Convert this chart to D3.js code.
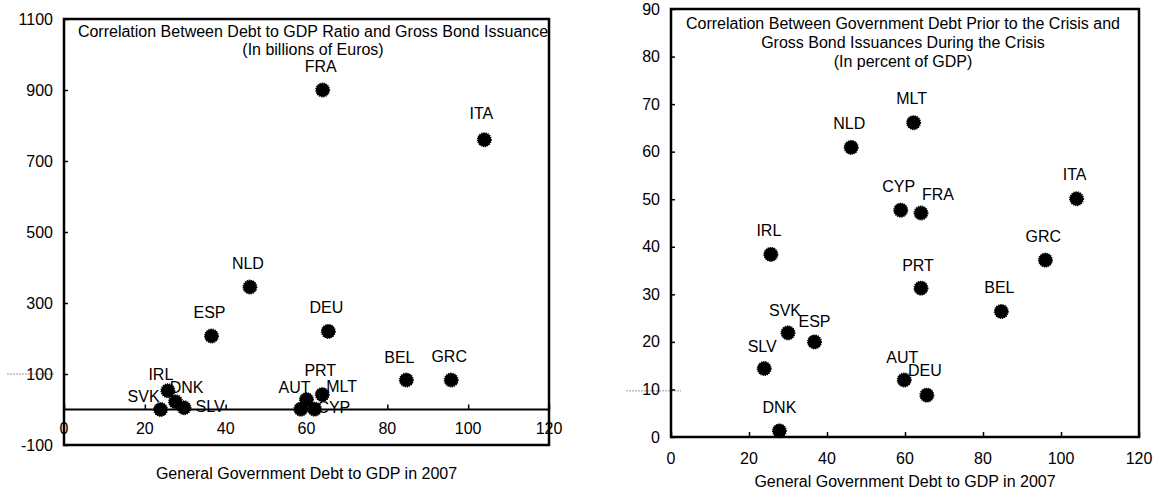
<!DOCTYPE html>
<html><head><meta charset="utf-8">
<script src="https://cdn.jsdelivr.net/npm/d3@7"></script>
<style>
body{margin:0;background:#fff;}
svg text{font-family:"Liberation Sans",Arial,sans-serif;fill:#000;}
</style></head>
<body><svg id="c" width="1168" height="491"></svg>
<script>
// ---------- DATA ----------
// Left panel: debt-to-GDP 2007 (x) vs gross bond issuance, billions of euros (y)
const leftCountries = ["FRA","ITA","NLD","ESP","DEU","BEL","GRC","PRT","IRL","DNK","SVK","SLV","AUT","MLT","CYP"];
const leftDebt      = [64, 104, 46, 36.5, 65.4, 84.7, 95.8, 63.9, 25.7, 27.6, 23.9, 29.7, 60, 62, 58.6];
const leftIssuance  = [900, 760, 345, 207, 220, 83, 83, 42, 53, 22, 0, 5, 28, 1, 1];
const leftTitle = ["Correlation Between Debt to GDP Ratio and Gross Bond Issuance","(In billions of Euros)"];
const leftXTicks = [0,20,40,60,80,100,120];
const leftYTicks = [-100,100,300,500,700,900,1100];

// Right panel: debt-to-GDP 2007 (x) vs gross bond issuance, percent of GDP (y)
const rightCountries = ["MLT","NLD","CYP","FRA","ITA","IRL","GRC","PRT","BEL","SVK","ESP","SLV","AUT","DEU","DNK"];
const rightDebt      = [62.2, 46.2, 58.9, 64.1, 104.0, 25.6, 96.0, 64.1, 84.7, 30.0, 36.8, 23.9, 59.8, 65.6, 27.8];
const rightIssuance  = [66.1, 60.9, 47.7, 47.1, 50.1, 38.4, 37.2, 31.3, 26.4, 21.9, 20.0, 14.4, 12.0, 8.8, 1.3];
const rightTitle = ["Correlation Between Government Debt Prior to the Crisis and","Gross Bond Issuances During the Crisis","(In percent of GDP)"];
const rightXTicks = [0,20,40,60,80,100,120];
const rightYTicks = [0,10,20,30,40,50,60,70,80,90];

const xTitle = "General Government Debt to GDP in 2007";

// ---------- LAYOUT / STYLE ----------
const FS = 16;
const defaultOff = [-2,-24];
const leftLabelOff = {ITA:[-3,-26],BEL:[-7,-23],IRL:[-7,-16],DNK:[11,-14],SVK:[-17,-13],SLV:[26,-1],AUT:[-12,-12],MLT:[27,-23],CYP:[33,-2]};
const rightLabelOff = {FRA:[17,-19],ESP:[0,-20],SVK:[-3,-22],SLV:[-2,-22],AUT:[-2,-22],DNK:[0,-23],PRT:[-3,-23],DEU:[-2,-25]};

const svg = d3.select("#c");

function panel(cfg){
  const x = d3.scaleLinear().domain([0,120]).range([cfg.x0,cfg.x1]);
  const y = d3.scaleLinear().domain(cfg.yDomain).range([cfg.y1,cfg.y0]);
  const g = svg.append("g");
  const pts = cfg.countries.map((c,i)=>({c, x:cfg.debt[i], y:cfg.iss[i]}));

  // light grey dotted artefact line near a y label
  g.append("line").attr("x1",cfg.dash[0]).attr("x2",cfg.dash[1])
    .attr("y1",y(cfg.dash[2])).attr("y2",y(cfg.dash[2]))
    .attr("stroke","#999").attr("stroke-width",1).attr("stroke-dasharray","2,1");

  // labels first (markers overlap them)
  g.selectAll("text.lab").data(pts).join("text").attr("class","lab")
    .attr("x",d=>x(d.x)+(cfg.off[d.c]||defaultOff)[0])
    .attr("y",d=>y(d.y)+(cfg.off[d.c]||defaultOff)[1])
    .attr("text-anchor","middle").attr("dominant-baseline","central")
    .style("font-size",FS+"px").text(d=>d.c);

  // title
  g.selectAll("text.tt").data(cfg.title).join("text").attr("class","tt")
    .attr("x",cfg.titleX).attr("y",(d,i)=>cfg.titleY+i*cfg.titleGap)
    .attr("text-anchor","middle").attr("dominant-baseline","central")
    .style("font-size",cfg.titleFS+"px").text(d=>d);

  // y axis ticks (inward) and labels
  const yAxis = d3.axisRight(y).tickValues(cfg.yTicks).tickSize(4).tickFormat("");
  g.append("g").attr("transform",`translate(${cfg.x0},0)`).call(yAxis)
    .call(s=>s.select(".domain").remove())
    .call(s=>s.selectAll("line").attr("stroke","#000").attr("stroke-width",1.5));
  g.selectAll("text.yt").data(cfg.yTicks).join("text").attr("class","yt")
    .attr("x",cfg.x0-11).attr("y",d=>y(d)).attr("text-anchor","end")
    .attr("dominant-baseline","central").style("font-size",FS+"px").text(d=>d);

  // x axis at y=0 : ticks upward
  const xAxis = d3.axisTop(x).tickValues(cfg.xTicks).tickSize(5).tickFormat("");
  g.append("g").attr("transform",`translate(0,${y(0)})`).call(xAxis)
    .call(s=>s.select(".domain").remove())
    .call(s=>s.selectAll("line").attr("stroke","#000").attr("stroke-width",1.5));
  g.selectAll("text.xt").data(cfg.xTicks).join("text").attr("class","xt")
    .attr("x",d=>x(d)).attr("y",y(0)+cfg.xLabDy).attr("text-anchor","middle")
    .attr("dominant-baseline","central").style("font-size",FS+"px").text(d=>d);

  // zero line (left panel) and box
  if(cfg.yDomain[0] < 0){
    g.append("line").attr("x1",cfg.x0).attr("x2",cfg.x1).attr("y1",y(0)).attr("y2",y(0))
      .attr("stroke","#000").attr("stroke-width",2);
  }
  g.append("rect").attr("x",cfg.x0).attr("y",cfg.y0).attr("width",cfg.x1-cfg.x0).attr("height",cfg.y1-cfg.y0)
    .attr("fill","none").attr("stroke","#000").attr("stroke-width",2.5);

  // x-axis title
  g.append("text").attr("x",(cfg.x0+cfg.x1)/2 + cfg.xtOff).attr("y",cfg.xTitleY)
    .attr("text-anchor","middle").attr("dominant-baseline","central")
    .style("font-size",FS+"px").text(xTitle);

  // markers
  g.selectAll("circle.m").data(pts).join("circle").attr("class","m")
    .attr("cx",d=>x(d.x)).attr("cy",d=>y(d.y)).attr("r",6.8)
    .attr("fill","#000").attr("stroke","#000").attr("stroke-width",1.4)
    .attr("stroke-dasharray","1.2,1");
}

panel({countries:leftCountries, debt:leftDebt, iss:leftIssuance, off:leftLabelOff,
  x0:64, x1:549, y0:19, y1:445, yDomain:[-100,1100], yTicks:leftYTicks, xTicks:leftXTicks,
  title:leftTitle, titleX:313, titleY:31, titleGap:18, titleFS:16,
  xLabDy:19, xTitleY:473, xtOff:0, dash:[7,55,100]});

panel({countries:rightCountries, debt:rightDebt, iss:rightIssuance, off:rightLabelOff,
  x0:671, x1:1139, y0:9, y1:437, yDomain:[0,90], yTicks:rightYTicks, xTicks:rightXTicks,
  title:rightTitle, titleX:903, titleY:23, titleGap:19, titleFS:16,
  xLabDy:21, xTitleY:481, xtOff:0, dash:[626,681,9.7]});
</script></body></html>
